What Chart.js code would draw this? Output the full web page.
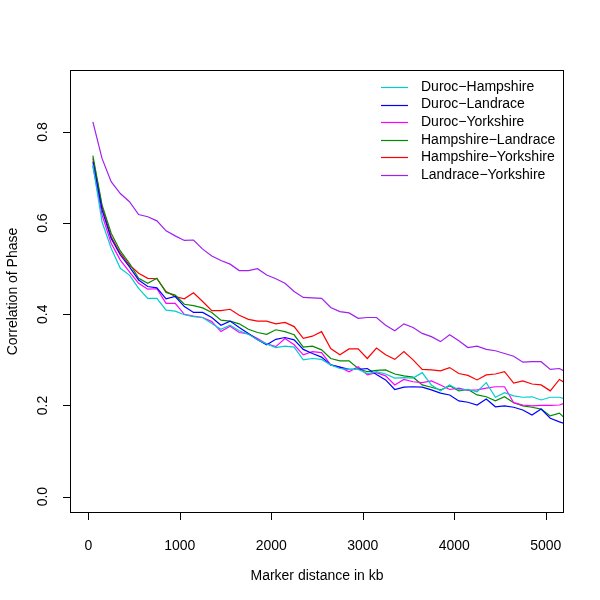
<!DOCTYPE html>
<html>
<head>
<meta charset="utf-8">
<script src="https://cdn.jsdelivr.net/npm/chart.js@4"></script>
<style>
  html, body { margin: 0; padding: 0; background: #fff; }
  #wrap { width: 600px; height: 600px; }
</style>
</head>
<body>
<div id="wrap"><canvas id="ldChart" width="600" height="600"></canvas></div>
<script>
// marker distance (kb), one point per 100 kb bin
const distances = [50, 150, 250, 350, 450, 550, 650, 750, 850, 950,
  1050, 1150, 1250, 1350, 1450, 1550, 1650, 1750, 1850, 1950,
  2050, 2150, 2250, 2350, 2450, 2550, 2650, 2750, 2850, 2950,
  3050, 3150, 3250, 3350, 3450, 3550, 3650, 3750, 3850, 3950,
  4050, 4150, 4250, 4350, 4450, 4550, 4650, 4750, 4850, 4950,
  5050, 5150, 5250];

const durocHampshire = [0.728, 0.603, 0.545, 0.501, 0.486, 0.457, 0.435, 0.435, 0.409, 0.407,
  0.399, 0.395, 0.393, 0.380, 0.367, 0.376, 0.364, 0.356, 0.344, 0.335,
  0.327, 0.330, 0.328, 0.300, 0.303, 0.301, 0.289, 0.281, 0.279, 0.279,
  0.270, 0.274, 0.269, 0.260, 0.261, 0.260, 0.272, 0.245, 0.232, 0.245,
  0.234, 0.235, 0.230, 0.250, 0.218, 0.228, 0.221, 0.218, 0.219, 0.212,
  0.218, 0.218, 0.212];

const durocLandrace = [0.735, 0.629, 0.566, 0.530, 0.504, 0.475, 0.461, 0.458, 0.434, 0.439,
  0.417, 0.404, 0.404, 0.393, 0.376, 0.385, 0.371, 0.358, 0.344, 0.333,
  0.345, 0.349, 0.344, 0.323, 0.314, 0.306, 0.289, 0.284, 0.279, 0.279,
  0.281, 0.268, 0.256, 0.235, 0.240, 0.241, 0.240, 0.234, 0.227, 0.223,
  0.210, 0.207, 0.201, 0.214, 0.197, 0.199, 0.196, 0.190, 0.179, 0.192,
  0.172, 0.164, 0.157];

const durocYorkshire = [0.725, 0.618, 0.556, 0.519, 0.493, 0.468, 0.455, 0.456, 0.424, 0.424,
  0.400, 0.396, 0.393, 0.384, 0.362, 0.374, 0.360, 0.357, 0.347, 0.335,
  0.329, 0.347, 0.333, 0.311, 0.318, 0.316, 0.289, 0.284, 0.274, 0.285,
  0.267, 0.272, 0.265, 0.245, 0.257, 0.252, 0.250, 0.254, 0.245, 0.235,
  0.238, 0.233, 0.234, 0.238, 0.241, 0.241, 0.206, 0.201, 0.199, 0.200,
  0.200, 0.201, 0.208];

const hampshireLandrace = [0.748, 0.640, 0.578, 0.539, 0.512, 0.479, 0.468, 0.479, 0.448, 0.442,
  0.422, 0.419, 0.414, 0.404, 0.387, 0.385, 0.379, 0.367, 0.360, 0.356,
  0.366, 0.362, 0.355, 0.328, 0.330, 0.322, 0.303, 0.298, 0.298, 0.281,
  0.274, 0.277, 0.278, 0.269, 0.265, 0.262, 0.245, 0.240, 0.234, 0.243,
  0.232, 0.235, 0.223, 0.219, 0.210, 0.219, 0.206, 0.199, 0.196, 0.192,
  0.177, 0.183, 0.164];

const hampshireYorkshire = [0.742, 0.636, 0.570, 0.534, 0.508, 0.490, 0.479, 0.478, 0.450, 0.439,
  0.434, 0.447, 0.428, 0.408, 0.408, 0.411, 0.398, 0.389, 0.385, 0.385,
  0.379, 0.382, 0.373, 0.347, 0.352, 0.362, 0.325, 0.311, 0.324, 0.324,
  0.303, 0.326, 0.311, 0.301, 0.318, 0.300, 0.279, 0.278, 0.276, 0.283,
  0.270, 0.266, 0.256, 0.267, 0.269, 0.274, 0.249, 0.254, 0.247, 0.245,
  0.232, 0.257, 0.245];

const landraceYorkshire = [0.822, 0.742, 0.691, 0.665, 0.647, 0.619, 0.614, 0.605, 0.583, 0.572,
  0.562, 0.563, 0.543, 0.528, 0.518, 0.510, 0.496, 0.496, 0.500, 0.486,
  0.478, 0.468, 0.450, 0.437, 0.436, 0.435, 0.415, 0.406, 0.403, 0.391,
  0.393, 0.393, 0.376, 0.364, 0.379, 0.371, 0.358, 0.351, 0.340, 0.355,
  0.342, 0.327, 0.330, 0.323, 0.320, 0.314, 0.308, 0.295, 0.296, 0.296,
  0.279, 0.281, 0.270];

const seriesNames = ['Duroc\u2212Hampshire', 'Duroc\u2212Landrace', 'Duroc\u2212Yorkshire',
  'Hampshire\u2212Landrace', 'Hampshire\u2212Yorkshire', 'Landrace\u2212Yorkshire'];
const seriesValues = [durocHampshire, durocLandrace, durocYorkshire,
  hampshireLandrace, hampshireYorkshire, landraceYorkshire];
const seriesColors = ['#00CDCD', '#0000FF', '#FF00FF', '#008B00', '#FF0000', '#A020F0'];

const xTicks = [0, 1000, 2000, 3000, 4000, 5000];
const yTicks = [0.0, 0.2, 0.4, 0.6, 0.8];

const FONT = '14px "Liberation Sans", Arial, sans-serif';

// R-style axes, box and legend drawn on top
const rAxes = {
    id: 'rAxes',
    afterDraw: function(chart) {
        const ctx = chart.ctx;
        const a = chart.chartArea;
        const xs = chart.scales.x, ys = chart.scales.y;
        ctx.save();
        ctx.strokeStyle = '#000';
        ctx.lineWidth = 1;
        ctx.strokeRect(a.left + 0.5, a.top + 0.5, a.right - a.left - 1, a.bottom - a.top - 1);

        ctx.fillStyle = '#000';
        ctx.font = FONT;

        // x axis
        const x0 = Math.round(xs.getPixelForValue(xTicks[0])) + 0.5;
        const x1 = Math.round(xs.getPixelForValue(xTicks[xTicks.length - 1])) + 0.5;
        ctx.beginPath();
        ctx.moveTo(x0, a.bottom - 0.5); ctx.lineTo(x1, a.bottom - 0.5);
        xTicks.forEach(v => {
            const px = Math.round(xs.getPixelForValue(v)) + 0.5;
            ctx.moveTo(px, a.bottom); ctx.lineTo(px, a.bottom + 7);
        });
        ctx.stroke();
        ctx.textAlign = 'center'; ctx.textBaseline = 'middle';
        xTicks.forEach(v => ctx.fillText(String(v), xs.getPixelForValue(v), a.bottom + 33));
        ctx.fillText('Marker distance in kb', (a.left + a.right) / 2, a.bottom + 63);

        // y axis
        const y0 = Math.round(ys.getPixelForValue(yTicks[0])) + 0.5;
        const y1 = Math.round(ys.getPixelForValue(yTicks[yTicks.length - 1])) + 0.5;
        ctx.beginPath();
        ctx.moveTo(a.left + 0.5, y0); ctx.lineTo(a.left + 0.5, y1);
        yTicks.forEach(v => {
            const py = Math.round(ys.getPixelForValue(v)) + 0.5;
            ctx.moveTo(a.left, py); ctx.lineTo(a.left - 7, py);
        });
        ctx.stroke();
        yTicks.forEach(v => {
            ctx.save();
            ctx.translate(a.left - 27, ys.getPixelForValue(v));
            ctx.rotate(-Math.PI / 2);
            ctx.fillText(v.toFixed(1), 0, 0);
            ctx.restore();
        });
        ctx.save();
        ctx.translate(13, (a.top + a.bottom) / 2);
        ctx.rotate(-Math.PI / 2);
        ctx.fillText('Correlation of Phase', 0, 0);
        ctx.restore();

        // legend (no frame)
        ctx.textAlign = 'left';
        ctx.lineWidth = 1.2;
        seriesNames.forEach((name, i) => {
            const ly = 87 + i * 17.6;
            ctx.strokeStyle = seriesColors[i];
            ctx.beginPath();
            ctx.moveTo(381, Math.round(ly) + 0.5);
            ctx.lineTo(408, Math.round(ly) + 0.5);
            ctx.stroke();
            ctx.fillStyle = '#000';
            ctx.fillText(name, 421, ly);
        });
        ctx.restore();
    }
};

new Chart(document.getElementById('ldChart'), {
    type: 'line',
    data: {
        datasets: seriesNames.map((name, i) => ({
            label: name,
            data: distances.map((d, j) => ({ x: d, y: seriesValues[i][j] })),
            borderColor: seriesColors[i],
            borderWidth: 1.2,
            pointRadius: 0,
            tension: 0,
            fill: false,
            clip: 0
        }))
    },
    options: {
        responsive: false,
        animation: false,
        layout: { padding: { left: 70, right: 36, top: 70, bottom: 87 } },
        plugins: { legend: { display: false }, tooltip: { enabled: false } },
        scales: {
            x: { type: 'linear', min: -200, max: 5200, display: false },
            y: { type: 'linear', min: -0.036, max: 0.936, display: false }
        }
    },
    plugins: [rAxes]
});
</script>
</body>
</html>
